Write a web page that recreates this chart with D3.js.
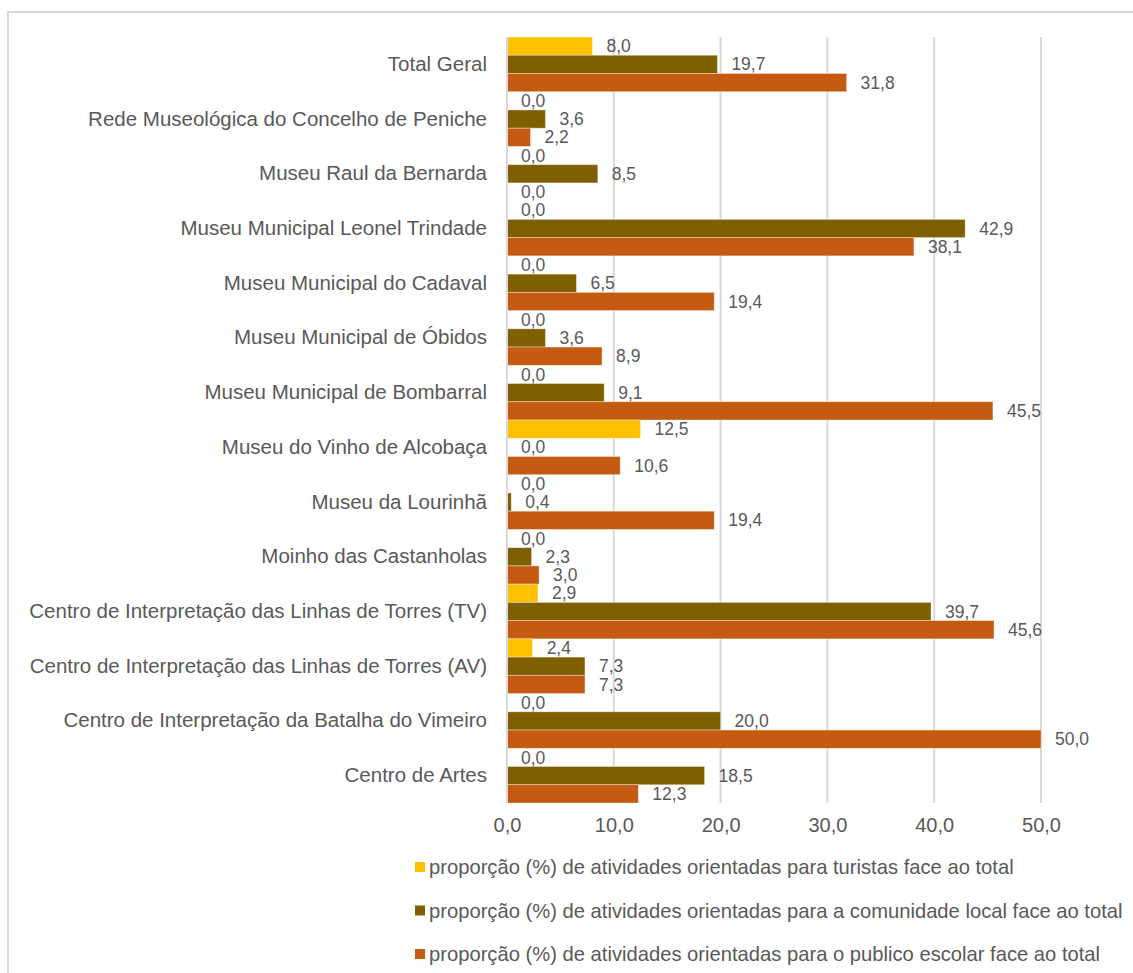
<!DOCTYPE html>
<html>
<head>
<meta charset="utf-8">
<script src="https://cdn.jsdelivr.net/npm/d3@7"></script>
<style>
  html, body { margin: 0; padding: 0; background: #fff; }
  svg { display: block; font-family: "Liberation Sans", Arial, sans-serif; }
</style>
</head>
<body>
<svg id="chart" width="1133" height="973"></svg>
<script>
const categories = [
  "Total Geral",
  "Rede Museológica do Concelho de Peniche",
  "Museu Raul da Bernarda",
  "Museu Municipal Leonel Trindade",
  "Museu Municipal do Cadaval",
  "Museu Municipal de Óbidos",
  "Museu Municipal de Bombarral",
  "Museu do Vinho de Alcobaça",
  "Museu da Lourinhã",
  "Moinho das Castanholas",
  "Centro de Interpretação das Linhas de Torres (TV)",
  "Centro de Interpretação das Linhas de Torres (AV)",
  "Centro de Interpretação da Batalha do Vimeiro",
  "Centro de Artes"
];
const turistas   = [8.0, 0.0, 0.0, 0.0, 0.0, 0.0, 0.0, 12.5, 0.0, 0.0, 2.9, 2.4, 0.0, 0.0];
const comunidade = [19.7, 3.6, 8.5, 42.9, 6.5, 3.6, 9.1, 0.0, 0.4, 2.3, 39.7, 7.3, 20.0, 18.5];
const escolar    = [31.8, 2.2, 0.0, 38.1, 19.4, 8.9, 45.5, 10.6, 19.4, 3.0, 45.6, 7.3, 50.0, 12.3];
const seriesNames = [
  "proporção (%) de atividades orientadas para turistas face ao total",
  "proporção (%) de atividades orientadas para a comunidade local face ao total",
  "proporção (%) de atividades orientadas para o publico escolar face ao total"
];
const seriesColors = ["#FFC000", "#7F6000", "#C55A11"];
const xTicks = [0, 10, 20, 30, 40, 50];

const series = [turistas, comunidade, escolar];
const fmt = v => d3.format(".1f")(v).replace(".", ",");

const svg = d3.select("#chart");
const textColor = "#595959";

// outer border
svg.append("rect")
  .attr("x", 8).attr("y", 12).attr("width", 1300).attr("height", 1100)
  .attr("fill", "none").attr("stroke", "#d9d9d9").attr("stroke-width", 2);

const x = d3.scaleLinear().domain([0, 50]).range([507, 1041]);
const y = d3.scaleBand().domain(categories).range([37, 803]).padding(0);
const ySub = d3.scaleBand().domain(d3.range(series.length)).range([0, y.bandwidth()]).padding(0);

// gridlines
svg.append("g").selectAll("line")
  .data(xTicks.filter(t => t > 0))
  .join("line")
  .attr("x1", d => x(d)).attr("x2", d => x(d))
  .attr("y1", 37).attr("y2", 803)
  .attr("stroke", "#d9d9d9").attr("stroke-width", 2);

// bars
const rows = [];
categories.forEach((c, i) => {
  series.forEach((s, j) => rows.push({ cat: c, si: j, v: s[i] }));
});

svg.append("g").selectAll("rect")
  .data(rows)
  .join("rect")
  .attr("x", x(0))
  .attr("y", d => y(d.cat) + ySub(d.si))
  .attr("width", d => x(d.v) - x(0))
  .attr("height", ySub.bandwidth())
  .attr("fill", d => seriesColors[d.si])
  .attr("stroke", "#ffffff").attr("stroke-opacity", 0.45).attr("stroke-width", 0.8);

// value axis line at 0
svg.append("line")
  .attr("x1", x(0)).attr("x2", x(0)).attr("y1", 37).attr("y2", 803)
  .attr("stroke", "#d9d9d9").attr("stroke-width", 2);

// data labels
svg.append("g").selectAll("text")
  .data(rows)
  .join("text")
  .attr("x", d => x(d.v) + 14)
  .attr("y", d => y(d.cat) + ySub(d.si) + ySub.bandwidth() / 2)
  .attr("dy", "0.35em")
  .attr("font-size", 17.5)
  .attr("fill", textColor)
  .text(d => fmt(d.v));

// x axis labels
const xAxis = svg.append("g")
  .attr("transform", "translate(0,803)")
  .call(d3.axisBottom(x).tickValues(xTicks).tickSize(0).tickPadding(15).tickFormat(fmt));
xAxis.select(".domain").remove();
xAxis.selectAll("text").attr("font-size", 20).attr("fill", textColor).attr("font-family", null);

// category axis labels
const yAxis = svg.append("g")
  .attr("transform", `translate(${x(0)},0)`)
  .call(d3.axisLeft(y).tickSize(0).tickPadding(20));
yAxis.select(".domain").remove();
yAxis.selectAll("text").attr("font-size", 20.5).attr("fill", textColor).attr("font-family", null);

// legend
const legendY = [867, 910.5, 954];
const leg = svg.append("g").selectAll("g")
  .data(seriesNames)
  .join("g")
  .attr("transform", (d, i) => `translate(415,${legendY[i]})`);
leg.append("rect")
  .attr("x", 0).attr("y", -5).attr("width", 10).attr("height", 10)
  .attr("fill", (d, i) => seriesColors[i]);
leg.append("text")
  .attr("x", 14).attr("y", 0).attr("dy", "0.35em")
  .attr("font-size", 20.2).attr("fill", textColor)
  .text(d => d);
</script>
</body>
</html>
